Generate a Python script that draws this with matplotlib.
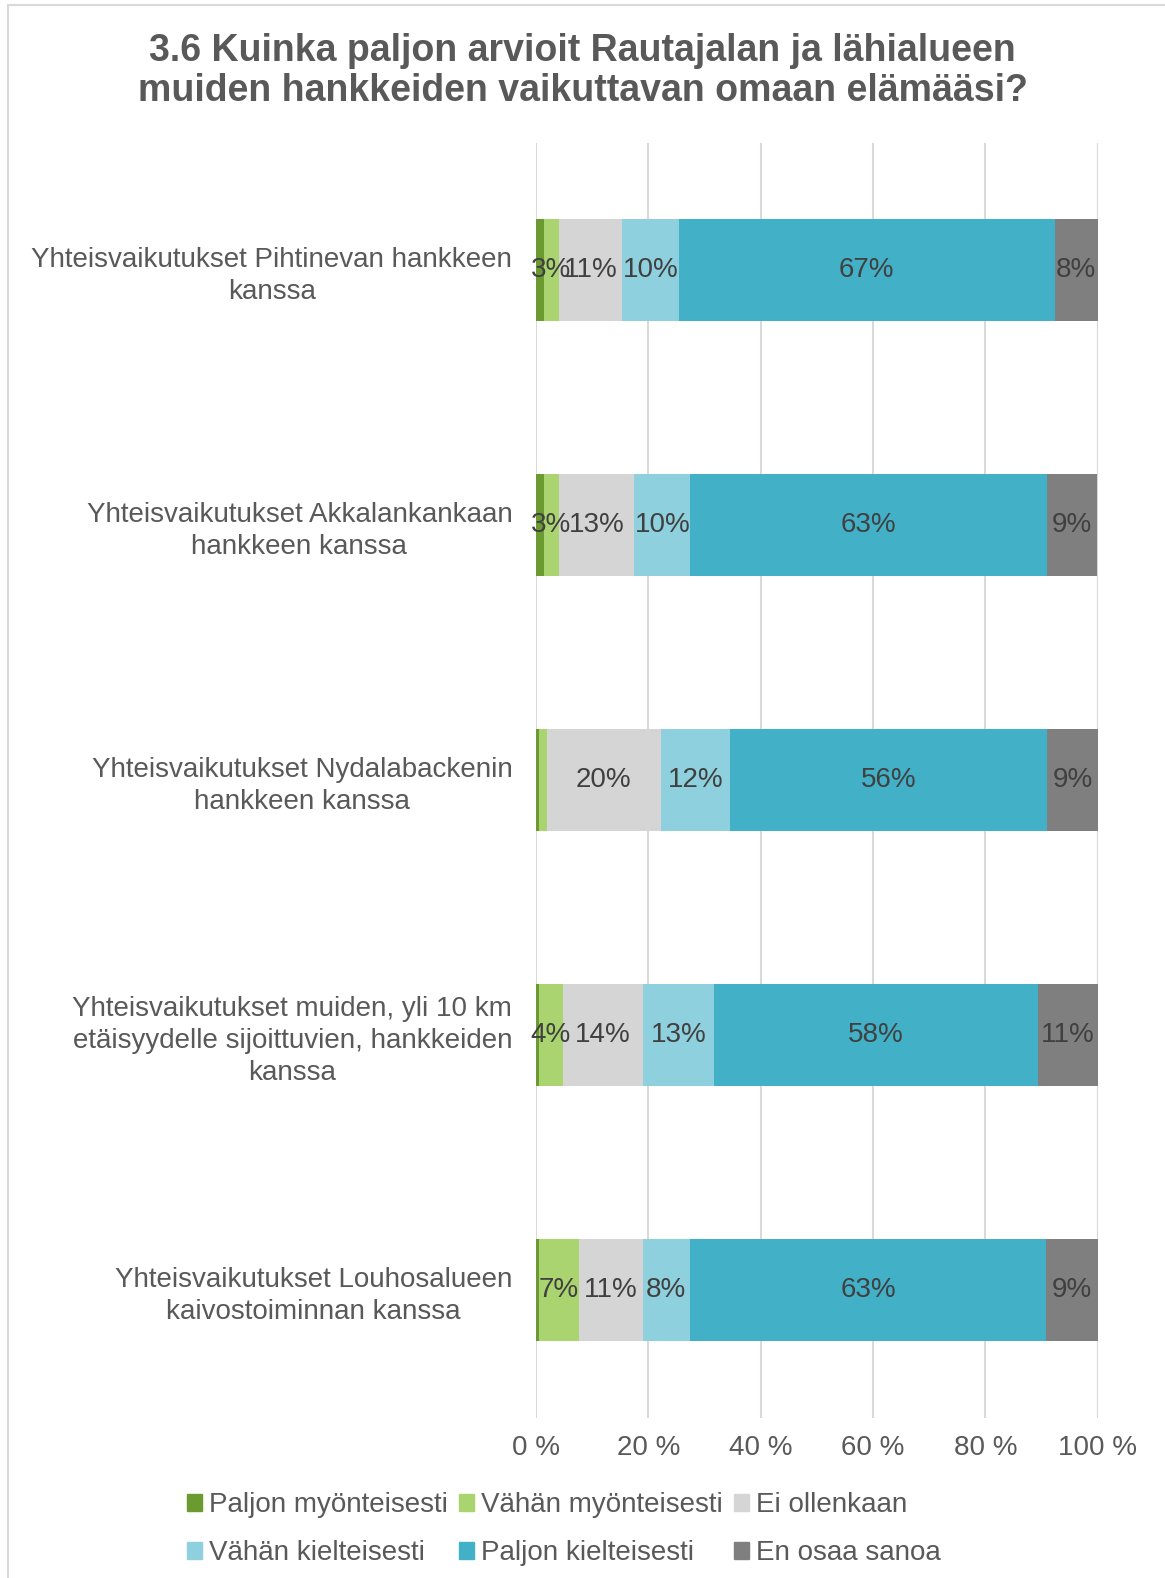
import numpy as np
import matplotlib.pyplot as plt
from matplotlib.patches import Rectangle, Patch

plt.rcParams['font.family'] = ['Liberation Sans', 'DejaVu Sans']

CATEGORIES = [
    'Yhteisvaikutukset Pihtinevan hankkeen\nkanssa',
    'Yhteisvaikutukset Akkalankankaan\nhankkeen kanssa',
    'Yhteisvaikutukset Nydalabackenin\nhankkeen kanssa',
    'Yhteisvaikutukset muiden, yli 10 km\netäisyydelle sijoittuvien, hankkeiden\nkanssa',
    'Yhteisvaikutukset Louhosalueen\nkaivostoiminnan kanssa',
]
SERIES = [
    'Paljon myönteisesti',
    'Vähän myönteisesti',
    'Ei ollenkaan',
    'Vähän kielteisesti',
    'Paljon kielteisesti',
    'En osaa sanoa',
]
paljon_myont = [1.4, 1.4, 0.6, 0.5, 0.6]
vahan_myont = [2.7, 2.7, 1.3, 4.3, 7.0]
ei_ollenkaan = [11.3, 13.4, 20.4, 14.2, 11.4]
vahan_kielt = [10.0, 10.0, 12.3, 12.7, 8.4]
paljon_kielt = [66.9, 63.4, 56.4, 57.7, 63.4]
en_osaa = [7.7, 9.0, 9.0, 10.6, 9.2]
VALUES = [paljon_myont, vahan_myont, ei_ollenkaan, vahan_kielt, paljon_kielt, en_osaa]
COLORS = ['#6b9b30', '#a9d46f', '#d5d5d5', '#8ed0dd', '#42b0c7', '#7f7f7f']

FS = 20

fig = plt.figure(figsize=(11.65, 15.78), dpi=100)
ax = fig.add_axes([0.460, 0.1014, 0.4824, 0.808])

y = np.arange(len(CATEGORIES))
left = np.zeros(len(CATEGORIES))
for name, vals, col in zip(SERIES, VALUES, COLORS):
    vals = np.array(vals)
    ax.barh(y, vals, 0.4, left=left, color=col, label=name, zorder=2)
    for yi, l, v in zip(y, left, vals):
        if v >= 2:
            ax.text(l + v / 2, yi, '{:.0f}%'.format(v), ha='center', va='center',
                    fontsize=FS, color='#404040', zorder=3)
    left += vals

ax.set_xlim(0, 100)
ax.set_ylim(len(CATEGORIES) - 0.5, -0.5)
ax.set_xticks(range(0, 101, 20))
ax.set_xticklabels(['{} %'.format(t) for t in range(0, 101, 20)])
ax.set_yticks(y)
ax.set_yticklabels(CATEGORIES, multialignment='center', linespacing=1.3)
ax.tick_params(axis='both', length=0, labelsize=FS, labelcolor='#595959')
ax.tick_params(axis='x', pad=12)
ax.tick_params(axis='y', pad=17)
ax.grid(axis='x', color='#d9d9d9', lw=1.5, zorder=0)
for s in ax.spines.values():
    s.set_visible(False)

fig.text(0.5, 0.955, '3.6 Kuinka paljon arvioit Rautajalan ja lähialueen\nmuiden hankkeiden vaikuttavan omaan elämääsi?',
         ha='center', va='center', fontsize=27, fontweight='bold', color='#595959', linespacing=1.15)

handles = [Patch(color=c, label=n) for n, c in zip(SERIES, COLORS)]
order = [0, 3, 1, 4, 2, 5]
fig.legend(handles=[handles[i] for i in order], loc='center', bbox_to_anchor=(0.484, 0.031), ncol=3,
           frameon=False, fontsize=FS, labelcolor='#595959', handlelength=0.55, handleheight=0.55,
           handletextpad=0.25, columnspacing=0.4, labelspacing=0.8)

fig.patches.append(Rectangle((0.007, -0.01), 1.1, 1.007, transform=fig.transFigure,
                             fill=False, edgecolor='#d9d9d9', lw=1.5))

fig.savefig('out.png', dpi=100)
